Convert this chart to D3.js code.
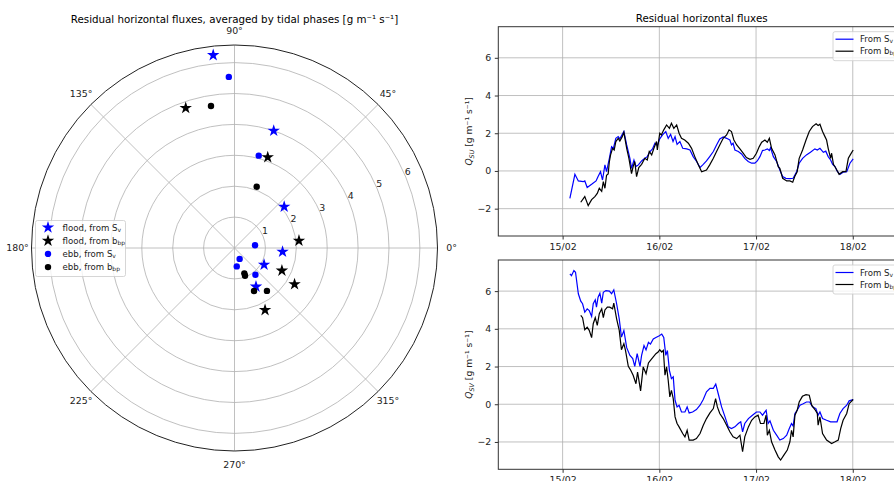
<!DOCTYPE html>
<html>
<head>
<meta charset="utf-8">
<script src="https://cdn.jsdelivr.net/npm/d3@7"></script>
<style>
  body { margin: 0; background: #fff; }
  svg { display: block; font-family: "DejaVu Sans", sans-serif; }
</style>
</head>
<body>
<svg id="chart" width="894" height="481"></svg>
<script>
// polar points: [direction in degrees, magnitude in g m-1 s-1]
const floodSv = [[96.3, 6.28], [71.5, 4.0], [39.7, 2.09], [-4.4, 1.56], [-29.5, 1.10], [-60.9, 1.43]]
const floodBbp = [[109.2, 4.8], [69.9, 3.13], [6.5, 2.10], [-25.5, 1.70], [-31.1, 2.27], [-63.8, 2.24]]
const ebbSv = [[91.9, 5.54], [75.3, 3.09], [7.5, 0.67], [-64.7, 0.39], [-83, 0.60], [-52, 1.10]]
const ebbBbp = [[99.4, 4.66], [70.1, 2.11], [-68.8, 0.88], [-69.2, 0.96], [-65.6, 1.53], [-52.9, 1.74]]

const radialTicks = [1, 2, 3, 4, 5, 6]
const angleTicks = [0, 45, 90, 135, 180, 225, 270, 315]
const yTicks = [-2, 0, 2, 4, 6]

// time series: [hours since 15/02 00:00, value]
const suSv = [[1.8,-1.45],[3.05,-0.18],[3.9,-0.53],[5.1,-0.57],[5.5,-0.53],[6.1,-0.88],[7.2,-0.71],[8.3,-0.53],[8.8,-0.30],[9.4,-0.04],[9.9,-0.48],[10.5,0.32],[10.9,-0.04],[11.6,0.67],[12.15,1.29],[12.6,1.2],[13.2,1.73],[13.8,1.82],[14.2,1.70],[14.6,1.86],[15.2,2.09],[15.9,1.38],[16.7,0.67],[17.1,0.14],[17.7,0.58],[18.2,0.23],[18.8,0.32],[19.6,0.53],[20.4,0.67],[21.0,0.76],[21.7,1.03],[22.3,1.17],[22.9,1.47],[23.5,1.35],[24.1,1.70],[24.8,1.91],[25.6,2.09],[26.2,1.73],[26.8,1.94],[27.4,1.56],[27.9,1.82],[28.4,1.41],[29.1,1.56],[29.8,1.2],[30.8,1.17],[31.6,1.11],[32.4,0.76],[33.25,0.50],[34.1,0.18],[34.9,0.35],[35.7,0.53],[36.5,0.76],[37.4,1.03],[38.2,1.38],[39.0,1.70],[39.85,1.80],[40.7,1.73],[41.5,1.64],[41.9,1.38],[42.3,1.47],[42.75,1.11],[43.6,1.03],[44.4,0.9],[45.2,0.67],[46.05,0.50],[46.9,0.41],[47.7,0.41],[48.3,0.53],[48.96,0.76],[49.6,1.08],[50.2,1.11],[50.8,1.17],[51.3,1.08],[51.6,1.23],[52.3,0.76],[53.1,0.50],[53.9,0.05],[54.6,-0.30],[55.4,-0.39],[56.4,-0.41],[57.2,-0.39],[58.06,-0.04],[58.7,0.41],[59.55,0.67],[60.5,0.85],[61.5,0.99],[62.6,1.17],[63.2,1.11],[63.85,1.20],[64.7,0.99],[65.3,1.05],[65.9,0.76],[66.5,0.58],[67.0,0.35],[67.6,0.23],[68.1,0.0],[68.8,-0.18],[69.6,-0.07],[70.5,-0.04],[71.3,0.41],[72.1,0.64]]
const suBbp = [[4.5,-1.66],[5.5,-1.36],[6.35,-1.84],[7.2,-1.52],[8.0,-1.36],[8.6,-1.19],[9.1,-0.92],[9.7,-1.08],[10.1,-0.57],[10.5,-0.92],[10.9,-0.23],[11.3,-0.16],[11.6,0.5],[11.9,0.85],[12.4,1.2],[12.8,1.11],[13.2,1.56],[13.8,1.73],[14.2,1.59],[14.8,1.82],[15.2,2.05],[15.9,1.2],[16.45,0.67],[17.1,-0.14],[17.5,0.23],[17.9,0.5],[18.35,-0.3],[18.9,0.18],[19.6,0.35],[20.4,0.67],[21.0,0.58],[21.5,1.03],[22.1,0.85],[22.65,1.2],[23.3,1.56],[23.5,1.11],[24.1,2.0],[24.5,1.91],[25.1,2.18],[25.8,2.44],[26.5,2.26],[27.0,2.53],[27.6,2.26],[28.3,2.44],[28.9,2.0],[29.5,1.73],[30.3,1.64],[31.2,1.47],[32.0,1.2],[32.8,0.76],[33.7,0.32],[34.5,-0.04],[35.7,0.05],[36.5,0.32],[37.4,0.67],[38.2,1.03],[39.0,1.38],[39.85,1.73],[40.7,1.91],[41.3,2.18],[41.9,2.09],[42.5,1.64],[43.2,1.38],[44.0,1.17],[44.8,0.94],[45.6,0.71],[46.5,0.62],[47.3,0.67],[48.1,0.94],[48.8,1.29],[49.4,1.52],[50.2,1.64],[50.8,1.52],[51.3,1.73],[51.85,1.2],[52.7,0.85],[53.5,0.23],[53.9,0.14],[54.6,-0.39],[55.6,-0.53],[56.4,-0.53],[57.1,-0.60],[57.6,-0.30],[58.2,-0.04],[58.7,0.67],[59.55,1.11],[60.4,1.64],[61.2,2.09],[62.0,2.35],[62.9,2.5],[63.4,2.41],[63.85,2.48],[64.5,2.09],[65.1,1.82],[65.5,1.64],[65.9,1.2],[66.5,0.67],[66.75,0.94],[67.2,0.35],[67.8,0.14],[68.6,-0.18],[69.5,-0.04],[70.3,-0.04],[70.9,0.67],[71.45,0.88],[72.1,1.11]]
const svSv = [[1.8,6.91],[2.2,6.82],[2.8,7.09],[3.2,7.0],[3.9,5.86],[4.5,5.47],[4.95,5.33],[5.5,4.88],[6.1,5.06],[6.6,4.97],[7.2,4.66],[7.6,5.33],[8.1,5.54],[8.4,5.15],[8.8,5.68],[9.25,5.89],[9.7,5.36],[10.1,5.94],[10.75,6.03],[11.6,6.0],[12.15,5.86],[12.7,6.06],[13.4,5.33],[14.05,4.53],[14.6,3.56],[15.2,3.91],[15.9,3.0],[16.7,2.59],[17.4,2.42],[17.9,2.01],[18.5,2.68],[19.2,2.01],[19.6,2.59],[20.2,3.11],[20.7,2.88],[21.3,3.28],[21.8,3.19],[22.5,3.46],[23.15,3.54],[24.0,3.63],[24.6,3.72],[25.1,3.54],[25.6,2.59],[26.0,2.85],[26.5,1.80],[27.0,1.36],[27.45,1.45],[27.9,0.21],[28.4,-0.14],[28.9,-0.05],[29.5,-0.41],[30.35,-0.41],[30.9,-0.14],[31.4,-0.46],[32.25,-0.41],[33.2,-0.28],[34.1,-0.05],[34.9,0.25],[35.7,0.66],[36.56,0.84],[37.4,0.84],[38.0,1.07],[38.6,0.57],[39.45,-0.14],[40.3,-0.67],[41.1,-1.20],[41.9,-1.29],[42.75,-1.20],[43.6,-1.02],[44.2,-0.93],[44.66,-1.46],[45.2,-1.02],[46.1,-0.76],[47.1,-0.58],[48.1,-0.41],[48.96,-0.41],[49.6,-0.58],[50.5,-0.32],[51.0,-1.02],[51.45,-0.88],[52.3,-1.38],[53.1,-1.64],[53.9,-1.90],[54.75,-1.82],[55.6,-1.64],[56.25,-1.29],[56.8,-1.02],[57.2,-1.16],[57.65,-0.49],[58.2,-0.32],[58.9,-0.05],[59.7,0.03],[60.5,0.12],[61.3,0.12],[62.0,-0.14],[62.85,-0.23],[63.4,-0.58],[63.85,-0.41],[64.5,-0.76],[65.5,-0.85],[66.5,-0.93],[67.35,-0.93],[68.1,-0.93],[68.8,-0.49],[69.6,-0.23],[70.5,-0.05],[71.1,0.18],[72.1,0.25]]
const svBbp = [[4.5,4.71],[4.95,4.59],[5.5,3.95],[6.1,4.09],[6.6,3.92],[7.2,3.53],[7.6,4.27],[8.1,4.59],[8.6,4.18],[9.1,4.80],[9.7,5.06],[10.1,4.59],[10.5,5.00],[11.1,5.15],[11.7,5.15],[12.4,5.06],[12.7,5.36],[13.4,4.53],[14.05,3.92],[14.6,2.89],[15.2,3.21],[15.6,2.86],[16.3,2.01],[16.9,1.80],[17.5,1.54],[18.2,1.09],[18.6,1.71],[19.35,0.71],[20.0,1.98],[20.7,1.62],[21.3,2.19],[21.8,2.33],[22.5,2.51],[23.15,2.68],[23.7,2.77],[24.1,2.89],[24.6,2.77],[25.0,2.86],[25.4,1.54],[25.8,1.98],[26.2,1.27],[26.6,0.39],[27.0,0.74],[27.45,0.30],[27.9,-0.67],[28.4,-1.02],[28.9,-1.20],[29.8,-1.55],[30.35,-1.73],[30.9,-1.38],[31.4,-1.90],[32.4,-1.90],[33.2,-1.82],[34.1,-1.55],[34.9,-1.11],[35.7,-0.76],[36.56,-0.46],[37.4,-0.23],[37.96,0.30],[38.4,-0.14],[39.0,-0.49],[39.85,-0.76],[40.7,-1.11],[41.5,-1.46],[42.3,-1.73],[43.2,-1.82],[44.0,-1.64],[44.66,-2.52],[45.2,-1.73],[46.1,-1.20],[46.9,-0.85],[47.7,-0.67],[48.5,-0.58],[49.1,-1.02],[49.95,-1.02],[50.5,-0.58],[50.8,-1.64],[51.3,-1.38],[51.85,-1.99],[52.7,-2.43],[53.5,-2.79],[54.1,-2.96],[54.9,-2.70],[55.75,-2.43],[56.4,-1.99],[56.8,-1.38],[57.2,-1.73],[57.65,-0.58],[58.2,-0.32],[58.7,0.12],[59.5,0.42],[60.4,0.51],[61.2,0.48],[61.8,-0.05],[62.6,-0.28],[63.2,-0.49],[63.4,-1.11],[63.85,-0.67],[64.5,-1.55],[65.5,-1.90],[66.75,-2.08],[67.6,-1.99],[68.4,-1.90],[69.0,-1.29],[69.6,-0.85],[70.5,-0.49],[71.1,0.03],[72.1,0.25]]

const svg = d3.select("#chart")
const gridColor = "#b0b0b0"
const tickFont = 9.4

// ---------- polar panel ----------
const cx = 234.5, cy = 248, outerR = 203
const rScale = d3.scaleLinear().domain([0, 6.57]).range([0, outerR])
const toXY = (deg, r) => {
  const a = deg * Math.PI / 180
  return [cx + rScale(r) * Math.cos(a), cy - rScale(r) * Math.sin(a)]
}

const polar = svg.append("g")

polar.append("text")
  .attr("x", cx).attr("y", 23)
  .attr("text-anchor", "middle")
  .attr("font-size", 10.3)
  .text("Residual horizontal fluxes, averaged by tidal phases [g m\u207B\u00B9 s\u207B\u00B9]")

polar.selectAll("circle.ring")
  .data(radialTicks)
  .join("circle")
  .attr("class", "ring")
  .attr("cx", cx).attr("cy", cy)
  .attr("r", d => rScale(d))
  .attr("fill", "none")
  .attr("stroke", gridColor)
  .attr("stroke-width", 0.8)

polar.selectAll("line.spoke")
  .data(angleTicks)
  .join("line")
  .attr("class", "spoke")
  .attr("x1", cx).attr("y1", cy)
  .attr("x2", d => cx + outerR * Math.cos(d * Math.PI / 180))
  .attr("y2", d => cy - outerR * Math.sin(d * Math.PI / 180))
  .attr("stroke", gridColor)
  .attr("stroke-width", 0.8)

polar.append("circle")
  .attr("cx", cx).attr("cy", cy).attr("r", outerR)
  .attr("fill", "none")
  .attr("stroke", "#222")
  .attr("stroke-width", 1)

polar.selectAll("text.rlab")
  .data(radialTicks)
  .join("text")
  .attr("class", "rlab")
  .attr("x", d => toXY(22.5, d)[0] + 2)
  .attr("y", d => toXY(22.5, d)[1] - 4.5)
  .attr("text-anchor", "middle")
  .attr("dominant-baseline", "middle")
  .attr("font-size", tickFont)
  .attr("fill", "#222")
  .text(d => d)

polar.selectAll("text.alab")
  .data(angleTicks)
  .join("text")
  .attr("class", "alab")
  .attr("x", d => cx + (outerR + 14) * Math.cos(d * Math.PI / 180))
  .attr("y", d => cy - (outerR + 14) * Math.sin(d * Math.PI / 180))
  .attr("text-anchor", "middle")
  .attr("dominant-baseline", "middle")
  .attr("font-size", tickFont)
  .attr("fill", "#222")
  .text(d => d + "\u00B0")

const star = d3.symbol().type(d3.symbolStar).size(48)
const polarSeries = [
  { data: floodSv, color: "#0000ff", kind: "star", label: ["flood, from S", "v"] },
  { data: floodBbp, color: "#000000", kind: "star", label: ["flood, from b", "bp"] },
  { data: ebbSv, color: "#0000ff", kind: "dot", label: ["ebb, from S", "v"] },
  { data: ebbBbp, color: "#000000", kind: "dot", label: ["ebb, from b", "bp"] }
]

function drawMarker(sel, kind, color) {
  if (kind === "star") {
    sel.append("path").attr("d", star).attr("fill", color)
  } else {
    sel.append("circle").attr("r", 3.2).attr("fill", color)
  }
}

polarSeries.forEach(s => {
  s.data.forEach(p => {
    const [x, y] = toXY(p[0], p[1])
    const g = polar.append("g").attr("transform", `translate(${x},${y})`)
    drawMarker(g, s.kind, s.color)
  })
})

const pLegend = polar.append("g").attr("transform", "translate(35.5,220.5)")
pLegend.append("rect")
  .attr("width", 90).attr("height", 56).attr("rx", 2)
  .attr("fill", "#fff").attr("fill-opacity", 0.8)
  .attr("stroke", "#cccccc").attr("stroke-width", 0.8)
polarSeries.forEach((s, i) => {
  const y = 7 + i * 13.2
  drawMarker(pLegend.append("g").attr("transform", `translate(12.5,${y})`), s.kind, s.color)
  const t = pLegend.append("text")
    .attr("x", 27).attr("y", y)
    .attr("dominant-baseline", "middle")
    .attr("font-size", 8.6)
    .attr("fill", "#222")
  t.append("tspan").text(s.label[0])
  t.append("tspan").attr("font-size", 6).attr("dy", 2).text(s.label[1])
})

// ---------- time series panels ----------
const base = new Date(2019, 1, 15)
const toDate = h => new Date(base.getTime() + h * 3600e3)
const x = d3.scaleTime().domain([toDate(-15.96), toDate(84.96)]).range([498.3, 905])

const panels = [
  { top: 26.7, bottom: 236, sv: suSv, bbp: suBbp, sub: "SU", title: "Residual horizontal fluxes" },
  { top: 260, bottom: 469.3, sv: svSv, bbp: svBbp, sub: "SV", title: null }
]

panels.forEach(p => {
  const y = d3.scaleLinear().domain([-3.45, 7.65]).range([p.bottom, p.top])
  const g = svg.append("g")
  const xTicks = d3.timeDay.range(toDate(0), toDate(73))

  g.selectAll("line.vgrid").data(xTicks).join("line")
    .attr("x1", d => x(d)).attr("x2", d => x(d))
    .attr("y1", p.top).attr("y2", p.bottom)
    .attr("stroke", gridColor).attr("stroke-width", 0.8)
  g.selectAll("line.hgrid").data(yTicks).join("line")
    .attr("x1", x.range()[0]).attr("x2", x.range()[1])
    .attr("y1", d => y(d)).attr("y2", d => y(d))
    .attr("stroke", gridColor).attr("stroke-width", 0.8)

  const line = d3.line().x(d => x(toDate(d[0]))).y(d => y(d[1]))
  g.append("path").datum(p.sv).attr("d", line)
    .attr("fill", "none").attr("stroke", "#0000ff").attr("stroke-width", 1.2)
  g.append("path").datum(p.bbp).attr("d", line)
    .attr("fill", "none").attr("stroke", "#000").attr("stroke-width", 1.2)

  g.append("rect")
    .attr("x", x.range()[0]).attr("y", p.top)
    .attr("width", x.range()[1] - x.range()[0]).attr("height", p.bottom - p.top)
    .attr("fill", "none").attr("stroke", "#333").attr("stroke-width", 1)

  const yAxis = g.append("g")
    .attr("transform", `translate(${x.range()[0]},0)`)
    .call(d3.axisLeft(y).tickValues(yTicks).tickSize(3.5).tickPadding(3.5).tickFormat(d => d < 0 ? "\u2212" + (-d) : d))
  const xAxis = g.append("g")
    .attr("transform", `translate(0,${p.bottom})`)
    .call(d3.axisBottom(x).tickValues(xTicks).tickSize(3.5).tickPadding(3.5).tickFormat(d3.timeFormat("%d/%m")))
  ;[yAxis, xAxis].forEach(a => {
    a.select(".domain").remove()
    a.selectAll(".tick line").attr("stroke", "#333")
    a.selectAll(".tick text").attr("font-size", tickFont).attr("fill", "#222").attr("font-family", "DejaVu Sans")
  })

  const yc = (p.top + p.bottom) / 2
  const lab = g.append("text")
    .attr("transform", `translate(472,${yc}) rotate(-90)`)
    .attr("text-anchor", "middle")
    .attr("font-size", 9.2)
    .attr("fill", "#222")
  lab.append("tspan").attr("font-style", "italic").text("Q")
  lab.append("tspan").attr("font-style", "italic").attr("font-size", 6.4).attr("dy", 2).text(p.sub)
  lab.append("tspan").attr("dy", -2).text(" [g m\u207B\u00B9 s\u207B\u00B9]")

  if (p.title) {
    g.append("text")
      .attr("x", (x.range()[0] + x.range()[1]) / 2).attr("y", p.top - 5)
      .attr("text-anchor", "middle").attr("font-size", 10.3)
      .text(p.title)
  }

  const lg = g.append("g").attr("transform", `translate(833,${p.top + 5})`)
  lg.append("rect")
    .attr("width", 80).attr("height", 29).attr("rx", 2)
    .attr("fill", "#fff").attr("fill-opacity", 0.8)
    .attr("stroke", "#cccccc").attr("stroke-width", 0.8)
  const entries = [{ c: "#0000ff", t: ["From S", "v"] }, { c: "#000", t: ["From b", "bp"] }]
  entries.forEach((e, i) => {
    const ly = 7.5 + i * 12
    lg.append("line").attr("x1", 2.5).attr("x2", 20.5).attr("y1", ly).attr("y2", ly)
      .attr("stroke", e.c).attr("stroke-width", 1.2)
    const t = lg.append("text").attr("x", 27).attr("y", ly)
      .attr("dominant-baseline", "middle").attr("font-size", 8.6).attr("fill", "#222")
    t.append("tspan").text(e.t[0])
    t.append("tspan").attr("font-size", 6).attr("dy", 2).text(e.t[1])
  })
})
</script>
</body>
</html>
